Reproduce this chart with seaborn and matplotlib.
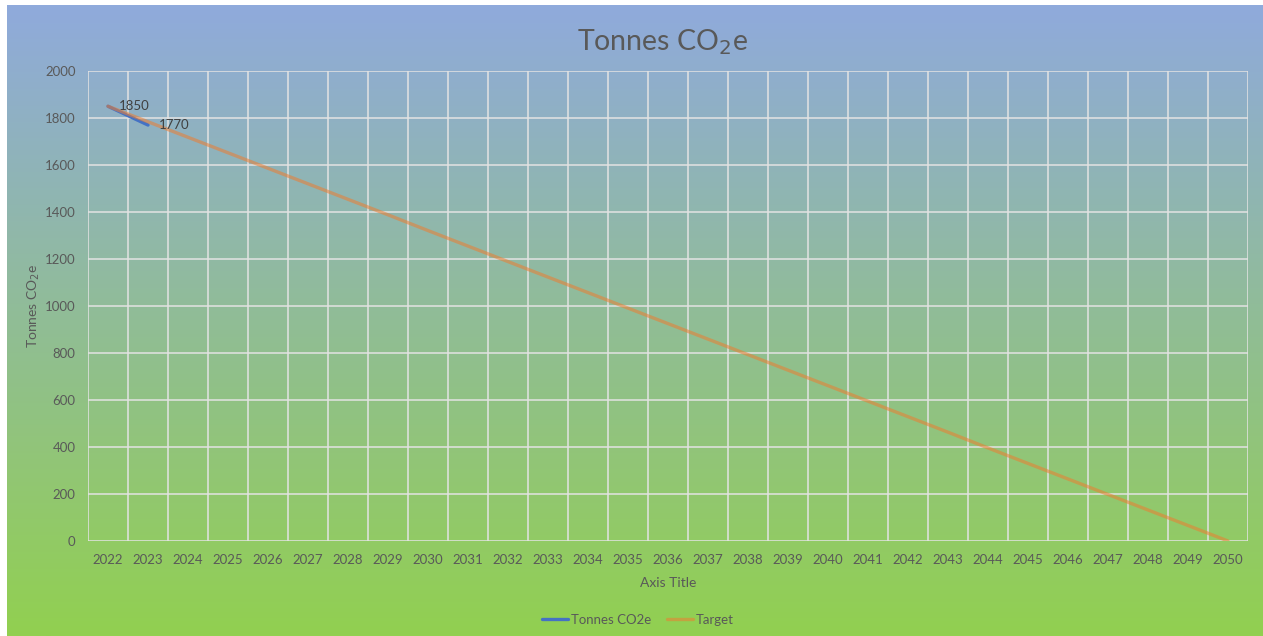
import numpy as np
import pandas as pd
import seaborn as sns
import matplotlib.pyplot as plt
from matplotlib.colors import LinearSegmentedColormap

# data
years = list(range(2022, 2051))
actual_years = [2022, 2023]
actual = [1850, 1770]
target = [1850, 1784, 1718, 1652, 1586, 1520, 1454, 1388, 1321, 1255,
          1189, 1123, 1057, 991, 925, 859, 793, 727, 661, 595,
          529, 463, 396, 330, 264, 198, 132, 66, 0]
y_ticks = [0, 200, 400, 600, 800, 1000, 1200, 1400, 1600, 1800, 2000]

sns.set_theme(style="white")
plt.rcParams['font.family'] = ['Lato', 'DejaVu Sans']

W, H = 1263, 636
fig = plt.figure(figsize=(W / 100, H / 100), dpi=100)
fig.patch.set_facecolor('white')

# gradient background (blue -> green), with small white margin top/left
bg = fig.add_axes([7 / W, 0, 1 - 7 / W, 1 - 5 / H])
cmap = LinearSegmentedColormap.from_list('bg', ['#8FAADC', '#92D050'])
bg.imshow(np.linspace(0, 1, 256).reshape(-1, 1), cmap=cmap, aspect='auto',
          extent=[0, 1, 0, 1])
bg.set_axis_off()

ax = fig.add_axes([88 / W, 1 - 541 / H, (1248 - 88) / W, (541 - 71) / H])
ax.patch.set_alpha(0)

df_act = pd.DataFrame({'year': actual_years, 'value': actual})
df_tgt = pd.DataFrame({'year': years, 'value': target})
sns.lineplot(data=df_act, x='year', y='value', ax=ax, color='#4472C4',
             linewidth=2.4, label='Tonnes CO2e')
sns.lineplot(data=df_tgt, x='year', y='value', ax=ax, color='#ED7D31',
             alpha=0.55, linewidth=2.4, label='Target')

for xv, yv in zip(actual_years, actual):
    ax.annotate(str(yv), (xv, yv), xytext=(8, 0), textcoords='offset points',
                ha='left', va='center', fontsize=9.5, color='#404040')

ax.set_xlim(years[0] - 0.5, years[-1] + 0.5)
ax.set_ylim(0, 2000)
ax.set_yticks(y_ticks)
ax.set_xticks(years)
ax.set_xticklabels([str(y) for y in years])
ax.set_xticks([y + 0.5 for y in [years[0] - 1] + years], minor=True)
ax.grid(False)
ax.grid(True, axis='y', which='major', color='#E3E3E3', linewidth=1.1)
ax.grid(True, axis='x', which='minor', color='#E3E3E3', linewidth=1.1)
for s in ax.spines.values():
    s.set_visible(False)
ax.tick_params(axis='both', which='both', length=0, labelsize=9.5,
               labelcolor='#595959')
ax.tick_params(axis='x', pad=9)
ax.tick_params(axis='y', pad=9)

ax.set_xlabel('Axis Title', fontsize=10, color='#595959', labelpad=8)
ax.set_ylabel('Tonnes CO$_2$e', fontsize=10, color='#595959')
ax.yaxis.set_label_coords(-0.04, 0.5)
ax.set_title('Tonnes CO$_2$e', fontsize=20.5, color='#595959', pad=15,
             x=0.495)

ax.get_legend().remove()
h, l = ax.get_legend_handles_labels()
fig.legend(h, l, loc='center', bbox_to_anchor=(0.505, 1 - 620 / H), ncol=2,
           frameon=False, fontsize=9.5, labelcolor='#595959',
           handlelength=2.0, handletextpad=0.2, columnspacing=1.2)

fig.savefig('out.png', dpi=100)
